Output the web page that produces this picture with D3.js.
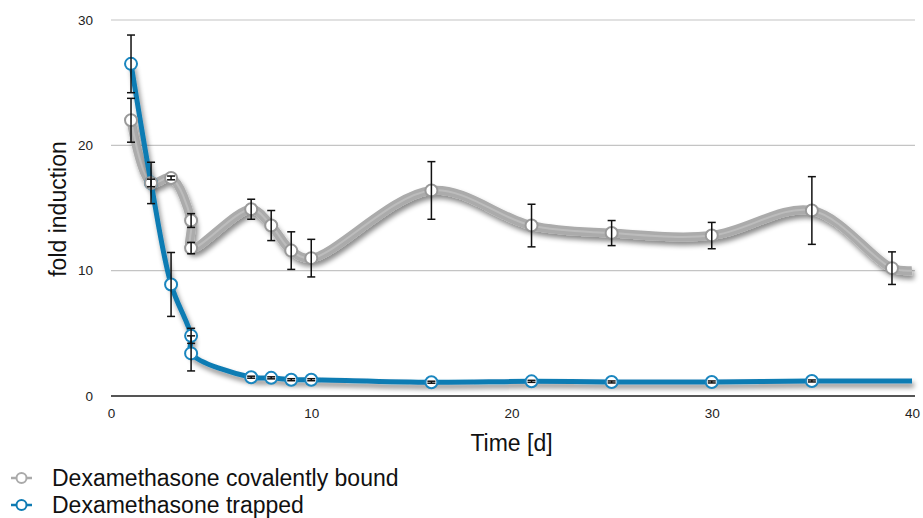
<!DOCTYPE html>
<html>
<head>
<meta charset="utf-8">
<script src="https://cdn.jsdelivr.net/npm/d3@7"></script>
<style>
  body { margin: 0; background: #fff; }
  svg { font-family: "Liberation Sans", Arial, sans-serif; }
</style>
</head>
<body>
<div class="chart"></div>
<script>
// data
const boundDays = [1, 2, 3, 4, 4, 7, 8, 9, 10, 16, 21, 25, 30, 35, 39];
const boundValues = [22.0, 17.0, 17.4, 14.0, 11.8, 14.9, 13.6, 11.6, 11.0, 16.4, 13.6, 13.0, 12.8, 14.8, 10.2];
const boundErrors = [1.75, 1.65, 0.15, 0.55, 0.45, 0.8, 1.2, 1.5, 1.5, 2.3, 1.7, 1.0, 1.05, 2.7, 1.3];
const boundEnd = [40, 10.0];

const trappedDays = [1, 2, 3, 4, 4, 7, 8, 9, 10, 16, 21, 25, 30, 35];
const trappedValues = [26.5, 17.0, 8.9, 4.8, 3.4, 1.5, 1.45, 1.3, 1.3, 1.1, 1.17, 1.12, 1.12, 1.2];
const trappedErrors = [2.3, 0.3, 2.55, 0.6, 1.4, 0.08, 0.08, 0.08, 0.08, 0.08, 0.08, 0.08, 0.08, 0.08];
const trappedEnd = [40, 1.2];

const xTicks = [0, 10, 20, 30, 40];
const yTicks = [0, 10, 20, 30];
const seriesNames = ["Dexamethasone covalently bound", "Dexamethasone trapped"];

const width = 923, height = 518;
const grey = "#ababab", blue = "#0e7bb3";

const svg = d3.select(".chart").append("svg")
  .attr("width", width).attr("height", height)
  .attr("viewBox", [0, 0, width, height]);

const defs = svg.append("defs");
defs.append("filter").attr("id", "shadow")
  .attr("x", "-10%").attr("y", "-10%").attr("width", "130%").attr("height", "140%")
  .append("feDropShadow")
  .attr("dx", 2).attr("dy", 4).attr("stdDeviation", 2.5)
  .attr("flood-color", "#000").attr("flood-opacity", 0.45);

const x = d3.scaleLinear().domain([0, 40]).range([111, 912]);
const y = d3.scaleLinear().domain([0, 30]).range([396, 20]);

// grid
svg.append("g")
  .selectAll("line")
  .data(yTicks.filter(d => d > 0))
  .join("line")
  .attr("x1", x(0)).attr("x2", x(40) + 3)
  .attr("y1", d => y(d)).attr("y2", d => y(d))
  .attr("stroke", "#c4c4c4").attr("stroke-width", 1.2);

// y axis labels
const yAxis = svg.append("g")
  .attr("transform", `translate(${x(0) - 18},0)`)
  .call(d3.axisLeft(y).tickValues(yTicks).tickSize(0).tickPadding(0));
yAxis.select(".domain").remove();
yAxis.selectAll("text").attr("font-size", 13.5).attr("fill", "#222")
  .attr("font-family", "'Liberation Sans', Arial, sans-serif");

// x axis
const xAxis = svg.append("g")
  .attr("transform", `translate(0,${y(0)})`)
  .call(d3.axisBottom(x).tickValues(xTicks).tickSize(0).tickPadding(12));
xAxis.select(".domain").remove();
xAxis.selectAll("text").attr("font-size", 13.5).attr("fill", "#222")
  .attr("font-family", "'Liberation Sans', Arial, sans-serif");

svg.append("line")
  .attr("x1", x(0)).attr("x2", x(40) + 3)
  .attr("y1", y(0)).attr("y2", y(0))
  .attr("stroke", "#555").attr("stroke-width", 2);

// axis titles
svg.append("text")
  .attr("transform", `translate(66,${(y(0) + y(30)) / 2 + 1}) rotate(-90)`)
  .attr("text-anchor", "middle")
  .attr("font-size", 23)
  .attr("fill", "#111")
  .text("fold induction");

svg.append("text")
  .attr("x", x(20)).attr("y", 451)
  .attr("text-anchor", "middle")
  .attr("font-size", 23)
  .attr("fill", "#111")
  .text("Time [d]");

const bound = boundDays.map((d, i) => ({ t: d, v: boundValues[i], e: boundErrors[i] }));
const trapped = trappedDays.map((d, i) => ({ t: d, v: trappedValues[i], e: trappedErrors[i] }));

const line = d3.line()
  .x(d => x(d.t)).y(d => y(d.v))
  .curve(d3.curveCatmullRom.alpha(0.5));

const boundPath = bound.concat([{ t: boundEnd[0], v: boundEnd[1] }]);
const trappedPath = trapped.concat([{ t: trappedEnd[0], v: trappedEnd[1] }]);

// lines
svg.append("path")
  .datum(boundPath)
  .attr("d", line)
  .attr("fill", "none")
  .attr("stroke", grey)
  .attr("stroke-width", 9)
  .attr("filter", "url(#shadow)");
svg.append("path")
  .datum(boundPath)
  .attr("d", line)
  .attr("fill", "none")
  .attr("stroke", "#bcbcbc")
  .attr("stroke-width", 2);

svg.append("path")
  .datum(trappedPath)
  .attr("d", line)
  .attr("fill", "none")
  .attr("stroke", blue)
  .attr("stroke-width", 5)
  .attr("filter", "url(#shadow)");

// points (grey drawn last so it covers the blue one at day 2)
function points(data, stroke) {
  svg.append("g")
    .selectAll("circle")
    .data(data)
    .join("circle")
    .attr("cx", d => x(d.t)).attr("cy", d => y(d.v))
    .attr("r", 6)
    .attr("fill", "#fff")
    .attr("stroke", stroke)
    .attr("stroke-width", 2);
}
points(trapped, "#1a86bf");
points(bound, "#9a9a9a");

// error bars
function errorBars(data) {
  const g = svg.append("g").attr("stroke", "#111").attr("stroke-width", 1.5);
  g.selectAll(".v")
    .data(data)
    .join("line")
    .attr("x1", d => x(d.t)).attr("x2", d => x(d.t))
    .attr("y1", d => y(d.v + d.e)).attr("y2", d => y(d.v - d.e));
  g.selectAll(".top")
    .data(data)
    .join("line")
    .attr("x1", d => x(d.t) - 4).attr("x2", d => x(d.t) + 4)
    .attr("y1", d => y(d.v + d.e)).attr("y2", d => y(d.v + d.e));
  g.selectAll(".bottom")
    .data(data)
    .join("line")
    .attr("x1", d => x(d.t) - 4).attr("x2", d => x(d.t) + 4)
    .attr("y1", d => y(d.v - d.e)).attr("y2", d => y(d.v - d.e));
}
errorBars(bound);
errorBars(trapped);

// legend
const legend = svg.append("g")
  .selectAll("g")
  .data(seriesNames)
  .join("g")
  .attr("transform", (d, i) => `translate(0,${478 + i * 27})`);
legend.append("line")
  .attr("x1", 11).attr("x2", 32)
  .attr("stroke", (d, i) => i ? blue : "#aaa")
  .attr("stroke-width", 2.5);
legend.append("circle")
  .attr("cx", 21.5).attr("r", 5)
  .attr("fill", "#fff")
  .attr("stroke", (d, i) => i ? blue : "#aaa")
  .attr("stroke-width", 2);
legend.append("text")
  .attr("x", 52).attr("y", 8)
  .attr("font-size", 23)
  .attr("fill", "#111")
  .text(d => d);
</script>
</body>
</html>
